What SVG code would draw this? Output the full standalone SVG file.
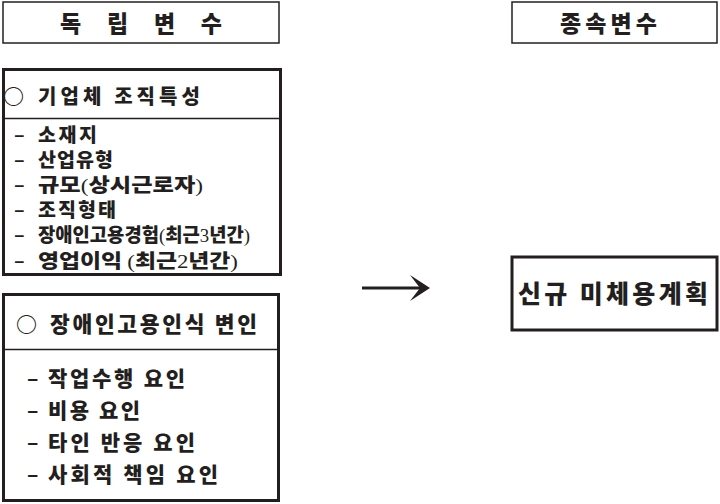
<svg xmlns="http://www.w3.org/2000/svg" width="720" height="504" viewBox="0 0 720 504">
<style>
.box{fill:#fff;stroke:#231f20}
.thin{stroke-width:1.5}
.thick{stroke-width:3}
.div{stroke:#231f20;stroke-width:1.5}
text{font-family:"Noto Sans CJK KR","Noto Sans",sans-serif;font-weight:900;fill:#231f20}
.lt{font-family:"Liberation Serif","Noto Sans CJK KR",serif;font-weight:normal}
.dash{font-weight:bold}
</style>
<defs>
<marker id="ah" markerUnits="userSpaceOnUse" viewBox="0 0 20 26" markerWidth="20" markerHeight="26" refX="12" refY="13" orient="auto">
<path d="M0,0 L20,13 L0,26 L10,13 z" fill="#231f20"/>
</marker>
</defs>
<rect width="720" height="504" fill="#fff"/>
<g id="header-independent">
<rect class="box thin" x="3" y="2" width="276" height="41"/>
<text x="60" y="32" font-size="23" textLength="162" lengthAdjust="spacing">독 립 변 수</text>
</g>
<g id="header-dependent">
<rect class="box thin" x="512" y="2" width="205" height="41"/>
<text x="560" y="32" font-size="23" textLength="97" lengthAdjust="spacing">종속변수</text>
</g>
<g id="org-characteristics">
<rect class="box thick" x="3.5" y="69.5" width="277" height="205"/>
<line class="div" x1="3.5" y1="118.5" x2="280.5" y2="118.5"/>
<text y="104" font-size="20"><tspan x="3" font-weight="bold" font-size="21">○</tspan><tspan x="38" textLength="162" lengthAdjust="spacing">기업체 조직특성</tspan></text>
<text y="142" font-size="19.5"><tspan x="14" class="dash">–</tspan><tspan x="38" textLength="59" lengthAdjust="spacing">소재지</tspan></text>
<text y="167" font-size="19.5"><tspan x="14" class="dash">–</tspan><tspan x="38" textLength="75" lengthAdjust="spacing">산업유형</tspan></text>
<text y="192" font-size="19.5"><tspan x="14" class="dash">–</tspan><tspan x="38" textLength="165" lengthAdjust="spacingAndGlyphs">규모<tspan class="lt">(</tspan>상시근로자<tspan class="lt">)</tspan></tspan></text>
<text y="217" font-size="19.5"><tspan x="14" class="dash">–</tspan><tspan x="38" textLength="78" lengthAdjust="spacing">조직형태</tspan></text>
<text y="242" font-size="19.5"><tspan x="14" class="dash">–</tspan><tspan x="38" textLength="212" lengthAdjust="spacingAndGlyphs">장애인고용경험<tspan class="lt">(</tspan>최근<tspan class="lt">3</tspan>년간<tspan class="lt">)</tspan></tspan></text>
<text y="268" font-size="19.5"><tspan x="14" class="dash">–</tspan><tspan x="38" textLength="200" lengthAdjust="spacingAndGlyphs">영업이익 <tspan class="lt">(</tspan>최근<tspan class="lt">2</tspan>년간<tspan class="lt">)</tspan></tspan></text>
</g>
<g id="employment-perception">
<rect class="box thick" x="3.5" y="294.5" width="275" height="206"/>
<line class="div" x1="3.5" y1="349.5" x2="278.5" y2="349.5"/>
<text y="332" font-size="21.5"><tspan x="16" font-weight="bold" font-size="21">○</tspan><tspan x="50" textLength="207" lengthAdjust="spacing">장애인고용인식 변인</tspan></text>
<text y="386" font-size="21"><tspan x="27" class="dash">–</tspan><tspan x="48" textLength="137" lengthAdjust="spacing">작업수행 요인</tspan></text>
<text y="418" font-size="21"><tspan x="27" class="dash">–</tspan><tspan x="48" textLength="92" lengthAdjust="spacing">비용 요인</tspan></text>
<text y="450" font-size="21"><tspan x="27" class="dash">–</tspan><tspan x="48" textLength="147" lengthAdjust="spacing">타인 반응 요인</tspan></text>
<text y="482" font-size="21"><tspan x="27" class="dash">–</tspan><tspan x="48" textLength="170" lengthAdjust="spacing">사회적 책임 요인</tspan></text>
</g>
<g id="new-hiring-plan">
<rect class="box thick" x="512" y="257" width="205" height="73"/>
<text x="518" y="303" font-size="25" textLength="190" lengthAdjust="spacing">신규 미체용계획</text>
</g>
<g id="connectors">
<line x1="362" y1="288" x2="422" y2="288" stroke="#231f20" stroke-width="3" marker-end="url(#ah)"/>
</g>
</svg>
